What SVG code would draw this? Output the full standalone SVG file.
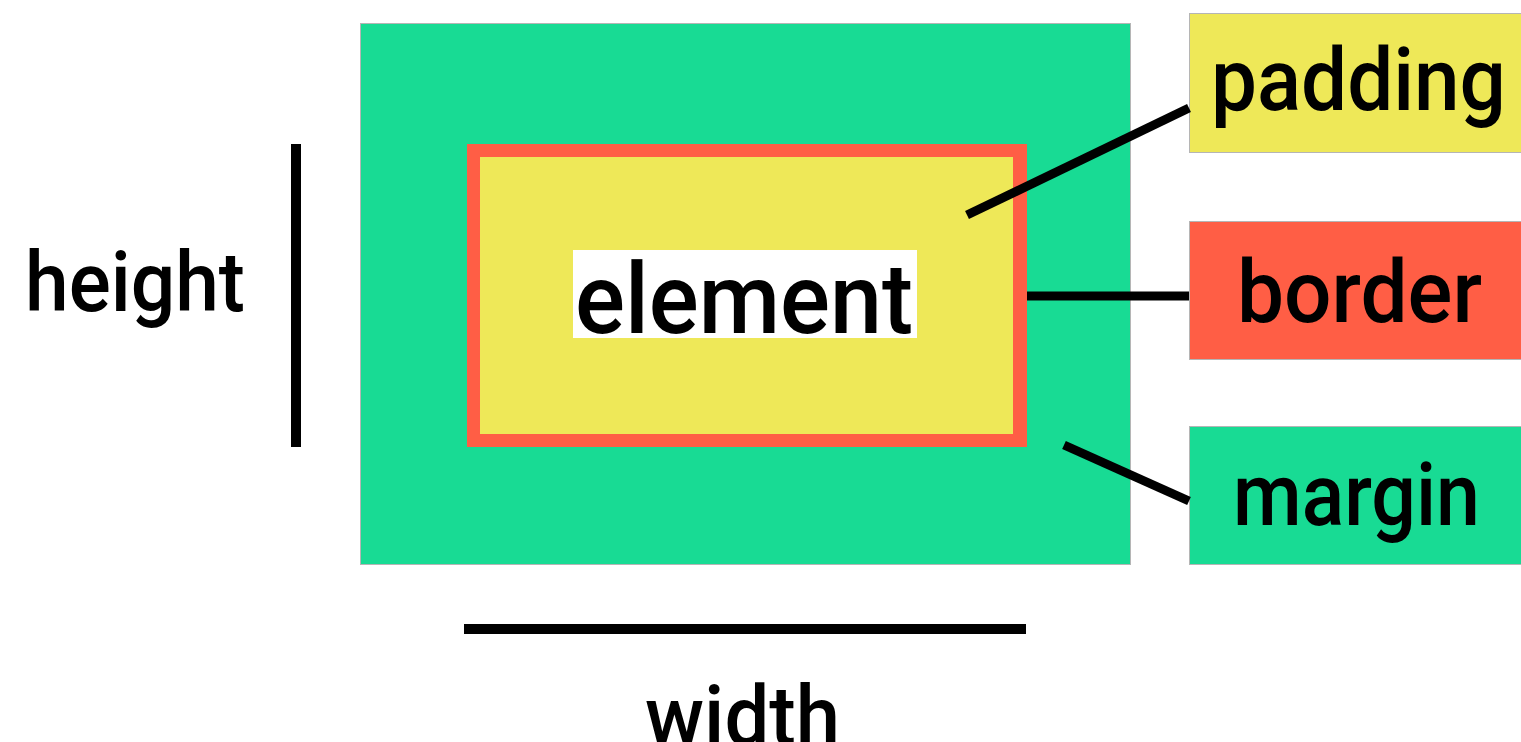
<svg xmlns="http://www.w3.org/2000/svg" width="1521" height="742" viewBox="0 0 1521 742">
<style>
.lbl{font-family:Roboto,"Liberation Sans","DejaVu Sans",sans-serif;font-weight:500;fill:#000;}
.green{fill:#18DB94;}
.yellow{fill:#EEE858;}
.red{fill:#FF5E45;}
.edge{stroke:#b5b5b5;stroke-width:1;}
.conn{stroke:#000;stroke-width:9;fill:none;}
.dim{stroke:#000;stroke-width:10;fill:none;}
</style>
<rect width="1521" height="742" fill="#fff"/>
<g id="margin-area">
<rect class="green edge" x="360.5" y="23.5" width="770" height="541"/>
</g>
<g id="border-area">
<rect class="red" x="467" y="144" width="560" height="303"/>
</g>
<g id="padding-area">
<rect class="yellow" x="480" y="157" width="533" height="277"/>
</g>
<g id="element">
<rect fill="#fff" x="573" y="250" width="344" height="88"/>
<text class="lbl" x="575" y="333" font-size="98" textLength="338" lengthAdjust="spacingAndGlyphs">element</text>
</g>
<g id="height-dim">
<line class="dim" x1="296" y1="144" x2="296" y2="447"/>
<text class="lbl" x="25" y="311" font-size="84" textLength="220" lengthAdjust="spacingAndGlyphs">height</text>
</g>
<g id="width-dim">
<line class="dim" x1="464" y1="629" x2="1026" y2="629"/>
<text class="lbl" x="645" y="745" font-size="84" textLength="195" lengthAdjust="spacingAndGlyphs">width</text>
</g>
<g id="padding-label">
<rect class="yellow edge" x="1189.5" y="13.5" width="333" height="139"/>
<text class="lbl" x="1211" y="110" font-size="88" textLength="295" lengthAdjust="spacingAndGlyphs">padding</text>
</g>
<g id="border-label">
<rect class="red edge" x="1189.5" y="221.5" width="333" height="138"/>
<text class="lbl" x="1237" y="322" font-size="88" textLength="245" lengthAdjust="spacingAndGlyphs">border</text>
</g>
<g id="margin-label">
<rect class="green edge" x="1189.5" y="426.5" width="333" height="138"/>
<text class="lbl" x="1233" y="525" font-size="88" textLength="247" lengthAdjust="spacingAndGlyphs">margin</text>
</g>
<g id="connectors">
<line class="conn" x1="967" y1="215" x2="1189" y2="108"/>
<line class="conn" x1="1027" y1="296" x2="1189" y2="296"/>
<line class="conn" x1="1064" y1="445" x2="1189" y2="501"/>
</g>
</svg>
